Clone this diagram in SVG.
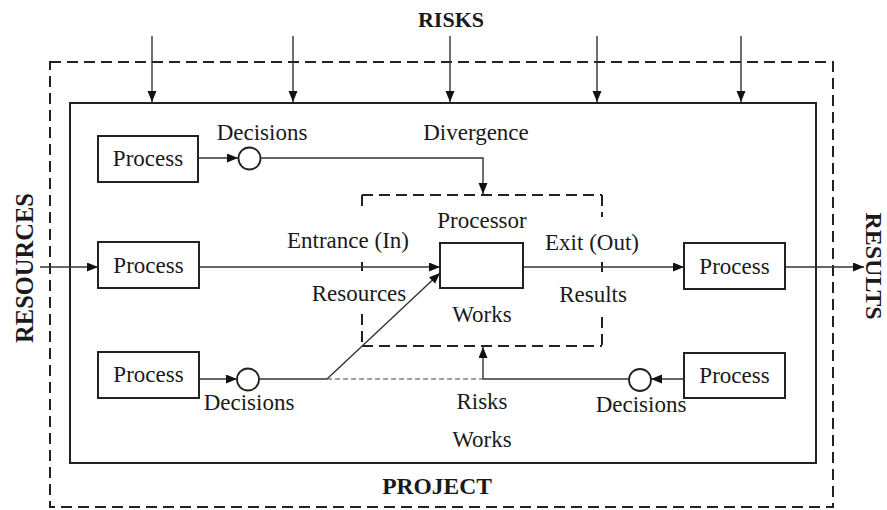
<svg xmlns="http://www.w3.org/2000/svg" width="887" height="510" viewBox="0 0 887 510">
<style>
text{font-family:"Liberation Serif","Times New Roman",serif;fill:#1a1a1a;font-size:23px}
.b{font-weight:bold}
.m{text-anchor:middle}
.box{fill:#fff;stroke:#222;stroke-width:2}
.ln{fill:none;stroke:#333;stroke-width:1.4}
.dash{fill:none;stroke:#222;stroke-width:2;stroke-dasharray:11 6}
.fd{fill:none;stroke:#444;stroke-width:1.2;stroke-dasharray:5 3}
.circ{fill:#fff;stroke:#222;stroke-width:1.8}
</style>
<defs>
<marker id="ah" markerUnits="userSpaceOnUse" markerWidth="12" markerHeight="10" refX="11" refY="4.5" orient="auto">
<path d="M0,0 L11,4.5 L0,9 z" fill="#111"/>
</marker>
</defs>
<rect width="887" height="510" fill="#fff"/>

<g id="project-boundary">
<rect class="dash" x="50" y="62" width="783" height="445"/>
<text class="b m" x="437" y="494" style="font-size:23.5px">PROJECT</text>
</g>
<g id="project-area">
<rect x="70" y="103" width="746" height="360" fill="none" stroke="#222" stroke-width="2"/>
</g>
<g id="risks-label"><text class="b m" x="451" y="27" style="font-size:22px">RISKS</text></g>
<g id="resources-label"><text class="b m" transform="translate(33,268) rotate(-90)" style="font-size:24.5px">RESOURCES</text></g>
<g id="results-label"><text class="b m" transform="translate(866,266) rotate(90)" style="font-size:24px">RESULTS</text></g>

<g id="work-zone">
<path class="dash" d="M362,195 H602"/>
<path class="dash" d="M362,346 H602"/>
<path class="dash" d="M362,195 V209 M362,262 V271 M362,314 V346"/>
<path class="dash" d="M602,195 V217 M602,262 V272 M602,317 V346"/>
</g>

<g id="connectors">
<path class="ln" d="M152,36 V102" marker-end="url(#ah)"/>
<path class="ln" d="M293,36 V102" marker-end="url(#ah)"/>
<path class="ln" d="M450,36 V102" marker-end="url(#ah)"/>
<path class="ln" d="M597,36 V102" marker-end="url(#ah)"/>
<path class="ln" d="M741,36 V102" marker-end="url(#ah)"/>
<path class="ln" d="M40,267 H98" marker-end="url(#ah)"/>
<path class="ln" d="M199,267 H440" marker-end="url(#ah)"/>
<path class="ln" d="M523,267 H684" marker-end="url(#ah)"/>
<path class="ln" d="M785,267 H864" marker-end="url(#ah)"/>
<path class="ln" d="M198,158 H238" marker-end="url(#ah)"/>
<path class="ln" d="M261,158 H483 V194" marker-end="url(#ah)"/>
<path class="ln" d="M199,379 H237" marker-end="url(#ah)"/>
<path class="ln" d="M259,379 H327"/>
<path class="ln" d="M327,379 L440,273" marker-end="url(#ah)"/>
<path class="fd" d="M327,379 H483"/>
<path class="ln" d="M629,379 H483"/>
<path class="ln" d="M483,379 V347" marker-end="url(#ah)"/>
<path class="ln" d="M684,379 H651" marker-end="url(#ah)"/>
</g>

<g id="process-top-left">
<rect class="box" x="98" y="136" width="100" height="46"/>
<text class="m" x="148" y="166">Process</text>
</g>
<g id="decision-top">
<circle class="circ" cx="249.5" cy="158.5" r="11"/>
<text class="m" x="262" y="140">Decisions</text>
</g>
<g id="divergence-label"><text class="m" x="476" y="140">Divergence</text></g>

<g id="process-mid-left">
<rect class="box" x="98" y="242" width="101" height="46"/>
<text class="m" x="148.5" y="273">Process</text>
</g>
<g id="processor">
<rect class="box" x="440" y="243" width="83" height="45"/>
<text class="m" x="482" y="228">Processor</text>
<text class="m" x="482" y="322">Works</text>
</g>
<g id="entrance-label"><text class="m" x="348" y="248">Entrance (In)</text></g>
<g id="resources-in-label"><text class="m" x="359" y="301">Resources</text></g>
<g id="exit-label"><text class="m" x="592" y="250">Exit (Out)</text></g>
<g id="results-out-label"><text class="m" x="593" y="302">Results</text></g>

<g id="process-mid-right">
<rect class="box" x="684" y="243" width="101" height="46"/>
<text class="m" x="734.5" y="274">Process</text>
</g>

<g id="process-bottom-left">
<rect class="box" x="98" y="352" width="101" height="46"/>
<text class="m" x="148.5" y="382">Process</text>
</g>
<g id="decision-bottom-left">
<circle class="circ" cx="248" cy="379.5" r="11"/>
<text class="m" x="249" y="410">Decisions</text>
</g>
<g id="risks-works-label">
<text class="m" x="482" y="409">Risks</text>
<text class="m" x="482" y="447">Works</text>
</g>
<g id="decision-bottom-right">
<circle class="circ" cx="640" cy="380" r="11"/>
<text class="m" x="641" y="412">Decisions</text>
</g>
<g id="process-bottom-right">
<rect class="box" x="684" y="353" width="101" height="45"/>
<text class="m" x="734.5" y="383">Process</text>
</g>
</svg>
